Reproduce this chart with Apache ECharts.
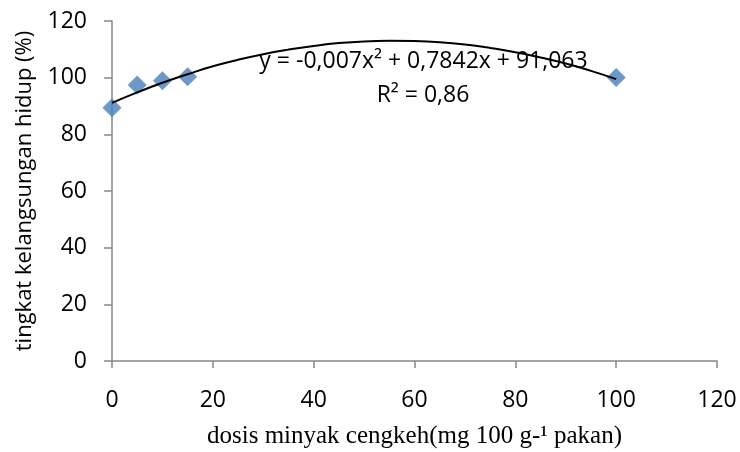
<!DOCTYPE html>
<html>
<head>
<meta charset="utf-8">
<script src="https://cdn.jsdelivr.net/npm/echarts@6/dist/echarts.min.js"></script>
<style>html,body{margin:0;padding:0;background:#fff}#c{width:740px;height:452px}</style>
</head>
<body>
<div id="c"></div>
<script>
// observed points
var doseX = [0, 5, 10, 15, 100];
var survivalY = [89.4, 97.4, 98.9, 100.3, 100.1];
// trend line
var trendX = [0, 5, 10, 15, 20, 25, 30, 35, 40, 45, 50, 55, 60, 65, 70, 75, 80, 85, 90, 95, 100];
var trendY = [91.1, 94.8, 98.2, 101.2, 104.0, 106.3, 108.3, 109.9, 111.2, 112.2, 112.8, 113.0, 112.9, 112.5, 111.7, 110.5, 109.0, 107.1, 105.0, 102.4, 99.5];
var xTicks = [0, 20, 40, 60, 80, 100, 120];
var yTicks = [0, 20, 40, 60, 80, 100, 120];
var equationText = 'y = -0,007x\u00b2 + 0,7842x + 91,063';
var r2Text = 'R\u00b2 = 0,86';
var xTitle = 'dosis minyak cengkeh(mg 100 g-\u00b9 pakan)';
var yTitle = 'tingkat kelangsungan hidup (%)';

var chart = echarts.init(document.getElementById('c'), null, {renderer: 'canvas'});
var axisColor = '#888888';
var sans = '"Open Sans", sans-serif';
function pairs(xs, ys) { return xs.map(function (x, i) { return [x, ys[i]]; }); }

chart.setOption({
  animation: false,
  backgroundColor: '#ffffff',
  grid: {left: 112, right: 23, top: 21, bottom: 91, containLabel: false, outerBoundsMode: 'none'},
  xAxis: {
    type: 'value', min: xTicks[0], max: xTicks[xTicks.length - 1], interval: xTicks[1] - xTicks[0],
    name: xTitle, nameLocation: 'middle', nameGap: 63,
    nameTextStyle: {fontFamily: '"Liberation Serif", "Times New Roman", serif', fontSize: 25, color: '#000'},
    axisLine: {show: true, lineStyle: {color: axisColor, width: 1.5}},
    axisTick: {show: true, inside: false, length: 7, lineStyle: {color: axisColor, width: 1.5}},
    axisLabel: {fontFamily: sans, fontSize: 23, color: '#000', margin: 28},
    splitLine: {show: false}
  },
  yAxis: {
    type: 'value', min: yTicks[0], max: yTicks[yTicks.length - 1], interval: yTicks[1] - yTicks[0],
    name: yTitle, nameLocation: 'middle', nameGap: 76, nameRotate: 90,
    nameTextStyle: {fontFamily: sans, fontSize: 22, color: '#000'},
    axisLine: {show: true, lineStyle: {color: axisColor, width: 1.5}},
    axisTick: {show: true, inside: false, length: 8, lineStyle: {color: axisColor, width: 1.5}},
    axisLabel: {fontFamily: sans, fontSize: 23, color: '#000', margin: 25},
    splitLine: {show: false}
  },
  series: [
    {
      type: 'scatter', data: pairs(doseX, survivalY), symbol: 'diamond', symbolSize: 19,
      itemStyle: {color: '#4a7ebb'}, z: 2
    },
    {
      type: 'line', data: pairs(trendX, trendY), smooth: true, showSymbol: false, symbol: 'none',
      lineStyle: {color: '#000', width: 2}, z: 3
    }
  ],
  graphic: [
    {type: 'text', x: 423.5, y: 61, z: 10, style: {text: equationText, fontFamily: sans, fontSize: 23, fill: '#000', align: 'center', verticalAlign: 'middle'}},
    {type: 'text', x: 423, y: 95, z: 10, style: {text: r2Text, fontFamily: sans, fontSize: 23, fill: '#000', align: 'center', verticalAlign: 'middle'}}
  ]
});
</script>
</body>
</html>
